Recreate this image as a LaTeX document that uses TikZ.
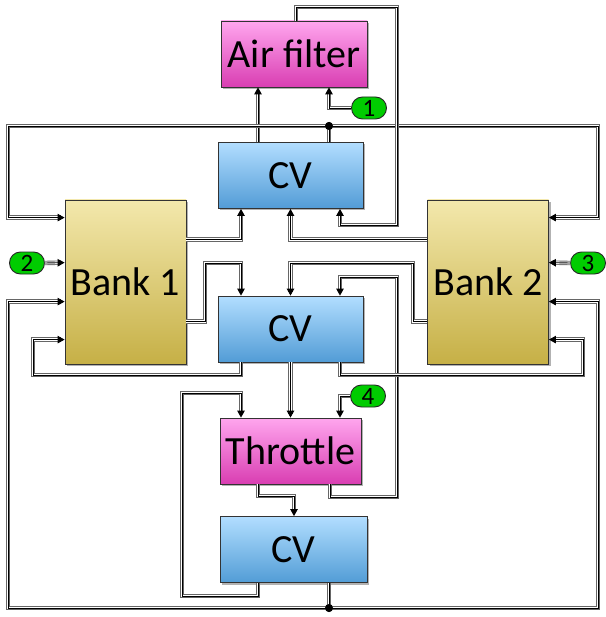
\documentclass[tikz,border=0pt]{standalone}
\usepackage{fontspec}
\setmainfont{Carlito}
\usetikzlibrary{arrows.meta,shadows}
\definecolor{pinktop}{RGB}{255,166,238}
\definecolor{pinkbot}{RGB}{217,62,178}
\definecolor{cvtop}{RGB}{178,222,255}
\definecolor{cvbot}{RGB}{82,156,214}
\definecolor{banktop}{RGB}{243,232,172}
\definecolor{bankbot}{RGB}{198,176,70}
\definecolor{numgreen}{RGB}{0,204,0}

\begin{document}
\begin{tikzpicture}[x=1pt,y=-1pt,
  blk/.style={draw=black!80,line width=0.8pt,inner sep=0pt,font=\fontsize{40}{42}\selectfont,
    drop shadow={shadow xshift=2pt,shadow yshift=-2pt,opacity=0.3,fill=black}},
  pinkbox/.style={blk,top color=pinktop,bottom color=pinkbot,minimum width=146,minimum height=66},
  cvbox/.style={blk,top color=cvtop,bottom color=cvbot,minimum width=145,minimum height=66},
  bankbox/.style={blk,top color=banktop,bottom color=bankbot,minimum width=121,minimum height=164},
  num/.style={draw=black!85,line width=0.9pt,fill=numgreen,rounded corners=11pt,minimum width=35,minimum height=22,
    inner sep=0pt,font=\fontsize{25}{25}\selectfont},
  dot/.style={circle,fill=black,inner sep=0pt,minimum size=8},
  pipe/.style={draw=black!60,line width=4.4pt,postaction={draw=white,line width=2.6pt},
    postaction={draw=black,line width=0.9pt}},
  pipein/.style={draw=black!60,line width=4.4pt,shorten >=4pt,postaction={draw=white,line width=2.6pt,shorten >=4pt},
    postaction={draw=black,line width=0.9pt,shorten >=0pt,-{Triangle[length=7pt,width=7.5pt]}}}]
\useasboundingbox (0,0) rectangle (605,617);

\node[pinkbox] (af) at (294,54) {Air filter};
\node[cvbox] (cv1) at (290.5,175.5) {CV};
\node[bankbox] (b1) at (125.5,282) {Bank 1};
\node[bankbox] (b2) at (488,282) {Bank 2};
\node[cvbox] (cv2) at (290.5,329) {CV};
\node[pinkbox,minimum width=141] (thr) at (290.5,451) {Throttle};
\node[cvbox,minimum width=147] (cv3) at (293.5,549.5) {CV};

\node[num] (o1) at (369,108) {1};
\node[num] (o2) at (27,263) {2};
\node[num] (o3) at (588,263) {3};
\node[num] (o4) at (368,396) {4};
\node[dot] (j1) at (329,126) {};
\node[dot] (j2) at (329,608) {};

% ports
\coordinate (afi1) at ([xshift=-36pt]af.south);
\coordinate (afi2) at ([xshift=35pt]af.south);
\coordinate (afo) at ([xshift=2pt]af.north);
\coordinate (cv1t1) at ([xshift=-32.5pt]cv1.north);
\coordinate (cv1t2) at ([xshift=38.5pt]cv1.north);
\foreach \n/\d in {1/-49.5,2/0,3/49.5} {
  \coordinate (cv1b\n) at ([xshift=\d pt]cv1.south);
  \coordinate (cv2t\n) at ([xshift=\d pt]cv2.north);
  \coordinate (cv2b\n) at ([xshift=\d pt]cv2.south);
  \coordinate (thrt\n) at ([xshift=\d pt]thr.north);
}
\foreach \n/\d in {1/18,2/63,3/102,4/140} {
  \coordinate (b1w\n) at ([yshift=-\d pt]b1.north west);
  \coordinate (b2e\n) at ([yshift=-\d pt]b2.north east);
}
\foreach \n/\d in {1/40,2/122} {
  \coordinate (b1e\n) at ([yshift=-\d pt]b1.north east);
  \coordinate (b2w\n) at ([yshift=-\d pt]b2.north west);
}
\coordinate (thrb1) at ([xshift=-32.5pt]thr.south);
\coordinate (thrb2) at ([xshift=39.5pt]thr.south);
\coordinate (cv3t) at ([xshift=0.5pt]cv3.north);
\coordinate (cv3b1) at ([xshift=-35.5pt]cv3.south);
\coordinate (cv3b2) at ([xshift=35.5pt]cv3.south);

% connections
\draw[pipein] (cv1t1) -- (afi1);
\draw[pipein] (o1.west) -| (afi2);
\draw[pipe] (j1.center) -- (cv1t2);
\draw[pipein] (j1.center) -- (8,126) |- (b1w1);
\draw[pipein] (j1.center) -- (598,126) |- (b2e1);
\draw[pipein] (afo) |- (397,7) -- (397,225) -| (cv1b3);
\draw[pipein] (b1e1) -| (cv1b1);
\draw[pipein] (b2w1) -| (cv1b2);
\draw[pipein] (b1e2) -| (205,263) -| (cv2t1);
\draw[pipein] (b2w2) -| (413,263) -| (cv2t2);
\draw[pipein] (thrb2) |- (397,497) -- (397,277) -| (cv2t3);
\draw[pipein] (cv2b1) |- (33,375) |- (b1w4);
\draw[pipein] (cv2b2) -- (thrt2);
\draw[pipein] (cv2b3) |- (583,375) |- (b2e4);
\draw[pipein] (o4.west) -| (thrt3);
\draw[pipein] (cv3b1) |- (182,596) |- (241,393) -- (thrt1);
\draw[pipein] (thrb1) |- ([yshift=20pt]cv3t) -- (cv3t);
\draw[pipein] (o2.east) -- (b1w2);
\draw[pipein] (o3.west) -- (b2e2);
\draw[pipe] (j2.center) -- (cv3b2);
\draw[pipein] (j2.center) -- (8,608) |- (b1w3);
\draw[pipein] (j2.center) -- (598,608) |- (b2e3);
\fill (j1) circle (4);
\fill (j2) circle (4);
\end{tikzpicture}
\end{document}
